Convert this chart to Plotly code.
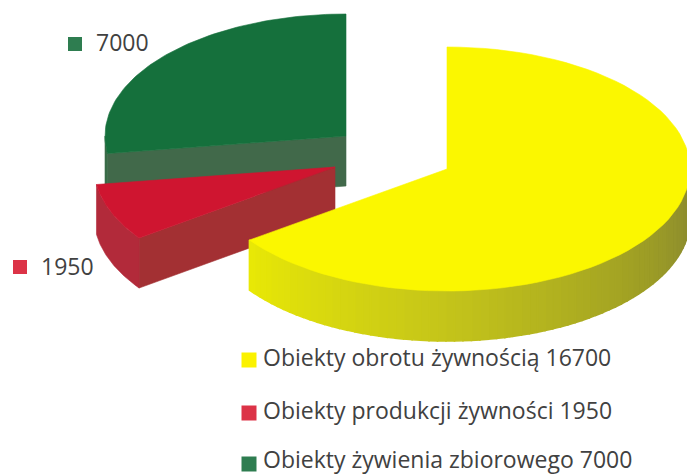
import math
import plotly.graph_objects as go

# Data
categories = ["Obiekty obrotu żywnością", "Obiekty produkcji żywności", "Obiekty żywienia zbiorowego"]
values = [16700, 1950, 7000]
side_labels = ["7000", "1950"]

# Styles / layout of the 3D pie in pixel space
W, H = 687, 476
RXS = [243, 241, 241]
RY, DEPTH = 122, 50
centers = [(447, 169), (335, 167), (346, 136)]
top_colors = ["#fbf700", "#cf1530", "#15703c"]
cut_colors = [None, "#a33033", "#41694a"]
side_colors = [None, "#b22a3a", "#3a6b48"]
TEXT = "#414141"
FONT = "Open Sans"
swatch_colors = ["#fbf200", "#dc3347", "#2e7d50"]

total = sum(values)
fig = go.Figure()


def pt(c, deg, rx, dz=0):
    a = math.radians(deg)
    return c[0] + rx * math.sin(a), c[1] - RY * math.cos(a) + dz


def poly(points, color, lw=0.6):
    xs = [p[0] for p in points] + [points[0][0]]
    ys = [p[1] for p in points] + [points[0][1]]
    fig.add_trace(go.Scatter(x=xs, y=ys, mode="lines", fill="toself", fillcolor=color,
                             line=dict(color=color, width=lw), hoverinfo="skip", showlegend=False))


def arc(c, a0, a1, rx, dz=0, n=80):
    return [pt(c, a0 + (a1 - a0) * i / n, rx, dz) for i in range(n + 1)]


def mix(stops, t):
    for (t0, c0), (t1, c1) in zip(stops, stops[1:]):
        if t <= t1:
            f = (t - t0) / (t1 - t0)
            return "rgb(%d,%d,%d)" % tuple(round(a + (b - a) * f) for a, b in zip(c0, c1))
    return "rgb(%d,%d,%d)" % stops[-1][1]


# Slice angles derived from the values (clockwise from 12 o'clock)
spans = []
start = 0.0
for v in values:
    end = start + 360.0 * v / total
    spans.append((start, end))
    start = end

yellow_stops = [(90, (134, 134, 50)), (130, (160, 160, 36)), (180, (196, 196, 26)), (234, (232, 232, 6))]

for idx in [2, 1, 0]:
    c = centers[idx]
    rx = RXS[idx]
    a0, a1 = spans[idx]
    # cut face facing the viewer
    if cut_colors[idx]:
        p = pt(c, a0, rx)
        poly([c, p, (p[0], p[1] + DEPTH), (c[0], c[1] + DEPTH)], cut_colors[idx])
    # outer wall: only the lower half of the rim is visible
    lo, hi = max(a0, 90), min(a1, 270)
    if lo < hi:
        if side_colors[idx]:
            poly(arc(c, lo, hi, rx) + arc(c, hi, lo, rx, DEPTH), side_colors[idx])
        else:
            n = 72
            for i in range(n):
                s0 = lo + (hi - lo) * i / n
                s1 = lo + (hi - lo) * (i + 1) / n
                poly(arc(c, s0, s1, rx, 0, 3) + arc(c, s1, s0, rx, DEPTH, 3), mix(yellow_stops, (s0 + s1) / 2), lw=1.6)
    # top face
    poly([c] + arc(c, a0, a1, rx), top_colors[idx])

# Legend rows
swatch_y = [360, 413, 464]
legend_y = [360, 413, 462]
fig.add_trace(go.Scatter(x=[249, 249, 249], y=swatch_y, mode="markers",
                         marker=dict(symbol="square", size=15, color=swatch_colors, line=dict(width=0)),
                         hoverinfo="skip", showlegend=False))
fig.add_trace(go.Scatter(x=[263, 263, 263], y=legend_y, mode="text",
                         text=[f"{n} {v}" for n, v in zip(categories, values)],
                         textposition="middle right",
                         textfont=dict(family=FONT, size=23, color=TEXT),
                         hoverinfo="skip", showlegend=False))

# Data labels beside the slices
fig.add_trace(go.Scatter(x=[75, 20], y=[44, 267], mode="markers",
                         marker=dict(symbol="square", size=14, color=[swatch_colors[2], swatch_colors[1]], line=dict(width=0)),
                         hoverinfo="skip", showlegend=False))
fig.add_trace(go.Scatter(x=[96, 41], y=[45, 269], mode="text", text=side_labels,
                         textposition="middle right",
                         textfont=dict(family=FONT, size=23, color=TEXT),
                         hoverinfo="skip", showlegend=False))

fig.update_layout(width=W, height=H, margin=dict(l=0, r=0, t=0, b=0),
                  paper_bgcolor="white", plot_bgcolor="white", showlegend=False,
                  xaxis=dict(range=[0, W], visible=False, fixedrange=True),
                  yaxis=dict(range=[H, 0], visible=False, fixedrange=True))
fig.write_html("out.html", config={"displayModeBar": False},
               post_script="document.body.style.margin='0';document.body.style.overflow='hidden';")
